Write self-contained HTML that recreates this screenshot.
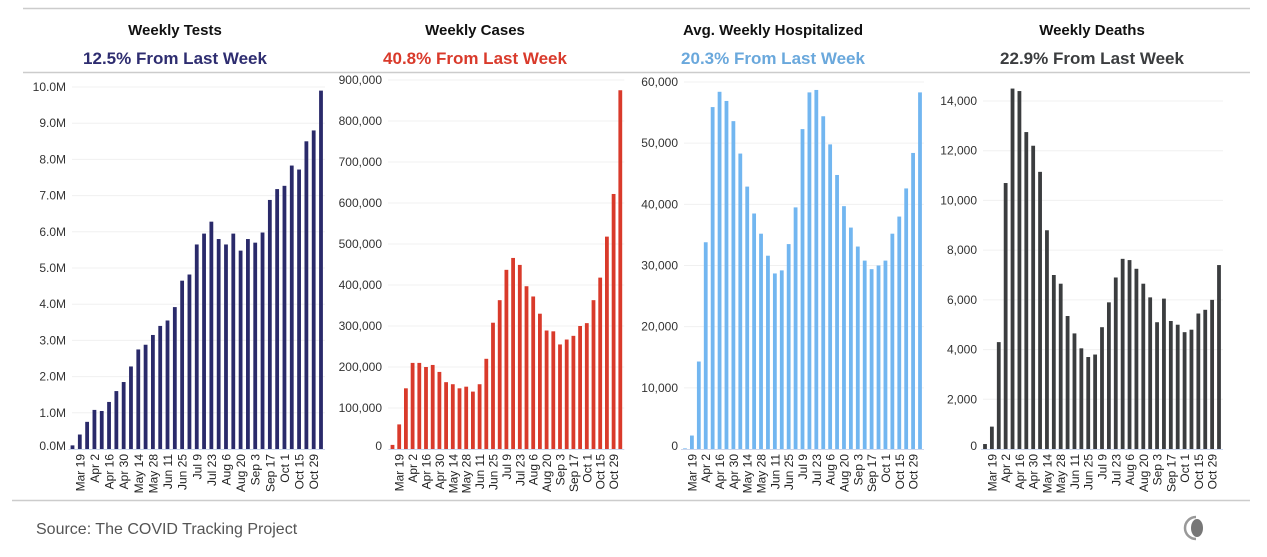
<!DOCTYPE html>
<html><head><meta charset="utf-8"><style>
body{margin:0;background:#fff;font-family:"Liberation Sans",sans-serif;}
#wrap{position:relative;width:1267px;height:557px;overflow:hidden;}
</style></head><body>
<div id="wrap">
<svg id="svg" width="1267" height="557" xmlns="http://www.w3.org/2000/svg">
<line x1="23" y1="8.5" x2="1250" y2="8.5" stroke="#ccc" stroke-width="1.5"/>
<line x1="23" y1="72.5" x2="1250" y2="72.5" stroke="#ccc" stroke-width="1.5"/>
<line x1="12" y1="500.5" x2="1250" y2="500.5" stroke="#ccc" stroke-width="1.5"/>
<text x="36" y="534" font-size="16" fill="#555">Source: The COVID Tracking Project</text>
<g><path d="M1196 517 A11 11 0 1 0 1196 539" fill="none" stroke="#999" stroke-width="2.5"/><ellipse cx="1197" cy="528" rx="6" ry="9" fill="#777"/></g>
</svg>
</div>
<script>
const dates=["Mar 12","Mar 19","Mar 26","Apr 2","Apr 9","Apr 16","Apr 23","Apr 30","May 7","May 14","May 21","May 28","Jun 4","Jun 11","Jun 18","Jun 25","Jul 2","Jul 9","Jul 16","Jul 23","Jul 30","Aug 6","Aug 13","Aug 20","Aug 27","Sep 3","Sep 10","Sep 17","Sep 24","Oct 1","Oct 8","Oct 15","Oct 22","Oct 29","Nov 5"];
const testsValues=[0.1,0.4,0.75,1.08,1.05,1.3,1.6,1.85,2.28,2.75,2.88,3.15,3.4,3.55,3.92,4.65,4.82,5.65,5.95,6.28,5.8,5.65,5.95,5.48,5.8,5.7,5.98,6.88,7.18,7.27,7.83,7.72,8.5,8.8,9.9];
const casesValues=[10000,60000,148000,210000,210000,200000,205000,188000,163000,158000,148000,152000,140000,158000,220000,308000,363000,437000,466000,449000,397000,372000,330000,289000,287000,255000,267000,276000,300000,307000,363000,418000,518000,622000,875000];
const hospValues=[100,2200,14300,33800,55900,58400,56900,53600,48300,42900,38500,35200,31600,28700,29200,33500,39500,52300,58300,58700,54400,49800,44800,39700,36200,33100,30800,29400,30000,30800,35200,38000,42600,48400,58300];
const deathsValues=[200,900,4300,10700,14500,14400,12750,12200,11150,8800,7000,6650,5350,4650,4050,3700,3800,4900,5900,6900,7650,7600,7250,6650,6100,5100,6050,5150,5000,4700,4800,5450,5600,6000,7400];
const testsTicks=[0,1,2,3,4,5,6,7,8,9,10];
const casesTicks=[0,100000,200000,300000,400000,500000,600000,700000,800000,900000];
const hospTicks=[0,10000,20000,30000,40000,50000,60000];
const deathsTicks=[0,2000,4000,6000,8000,10000,12000,14000];
const titles=["Weekly Tests","Weekly Cases","Avg. Weekly Hospitalized","Weekly Deaths"];
const subtitles=["12.5% From Last Week","40.8% From Last Week","20.3% From Last Week","22.9% From Last Week"];

const NS="http://www.w3.org/2000/svg";
const svg=document.getElementById('svg');
function el(t,a,p){const e=document.createElementNS(NS,t);for(const k in a)e.setAttribute(k,a[k]);(p||svg).appendChild(e);return e;}
const cfg=[
 {vals:testsValues,ticks:testsTicks,fmt:v=>v.toFixed(1)+'M',max:10,top:87,x0:72.5,x1:321,lab:66,cx:175,color:'#2a2a6a',sub:'#2e2d70',name:'tests'},
 {vals:casesValues,ticks:casesTicks,fmt:v=>v.toLocaleString('en-US'),max:900000,top:80,x0:392.5,x1:620.3,lab:382,cx:475,color:'#d93a2b',sub:'#d93a2b',name:'cases'},
 {vals:hospValues,ticks:hospTicks,fmt:v=>v.toLocaleString('en-US'),max:60000,top:82,x0:685,x1:920,lab:678,cx:773,color:'#72b6f0',sub:'#6aa8dc',name:'hospitalized'},
 {vals:deathsValues,ticks:deathsTicks,fmt:v=>v.toLocaleString('en-US'),max:14000,top:101,x0:985,x1:1219,lab:977,cx:1092,color:'#3b3d3f',sub:'#3b3d3f',name:'deaths'}
];
const base=449;
cfg.forEach((c,ci)=>{
 const g=el('g',{});
 
 
 const t=el('text',{x:c.cx,y:35,'text-anchor':'middle','font-size':15,'font-weight':'bold',fill:'#111'},g);
 t.textContent=titles[ci];
 
 
 const s=el('text',{x:c.cx,y:64,'text-anchor':'middle','font-size':17,'font-weight':'bold',fill:c.sub},g);
 s.textContent=subtitles[ci];
 
 
 const y=v=>base-(v/c.max)*(base-c.top);
 const step=(c.x1-c.x0)/(c.vals.length-1);
 const xs=i=>c.x0+i*step;
 c.ticks.forEach(tv=>{
  if(tv>0){const gl=el('line',{x1:c.lab+6,x2:c.x1+4,y1:y(tv),y2:y(tv),stroke:'#f0f0f0','stroke-width':1},g);
  
  }
  const tl=el('text',{x:c.lab,y:y(tv)-(tv===0?3:0)+4,'text-anchor':'end','font-size':12,fill:'#333'},g);
  tl.textContent=c.fmt(tv);
  
  
 });
 c.vals.forEach((v,i)=>{
  const b=el('rect',{x:xs(i)-1.9,y:y(v),width:3.8,height:base-y(v),fill:c.color},g);
  
  
  if(i%2===1){
   const xl=el('text',{x:0,y:0,'text-anchor':'end','font-size':12,fill:'#222',transform:`translate(${xs(i)+4.5},${base+5}) rotate(-90)`},g);
   xl.textContent=dates[i];
   
   
  }
 });
 const ax=el('line',{x1:c.x0-4,x2:c.x1+4,y1:base+0.5,y2:base+0.5,stroke:'#ccd6eb','stroke-width':1},g);
 
 
});
</script>
</body></html>
